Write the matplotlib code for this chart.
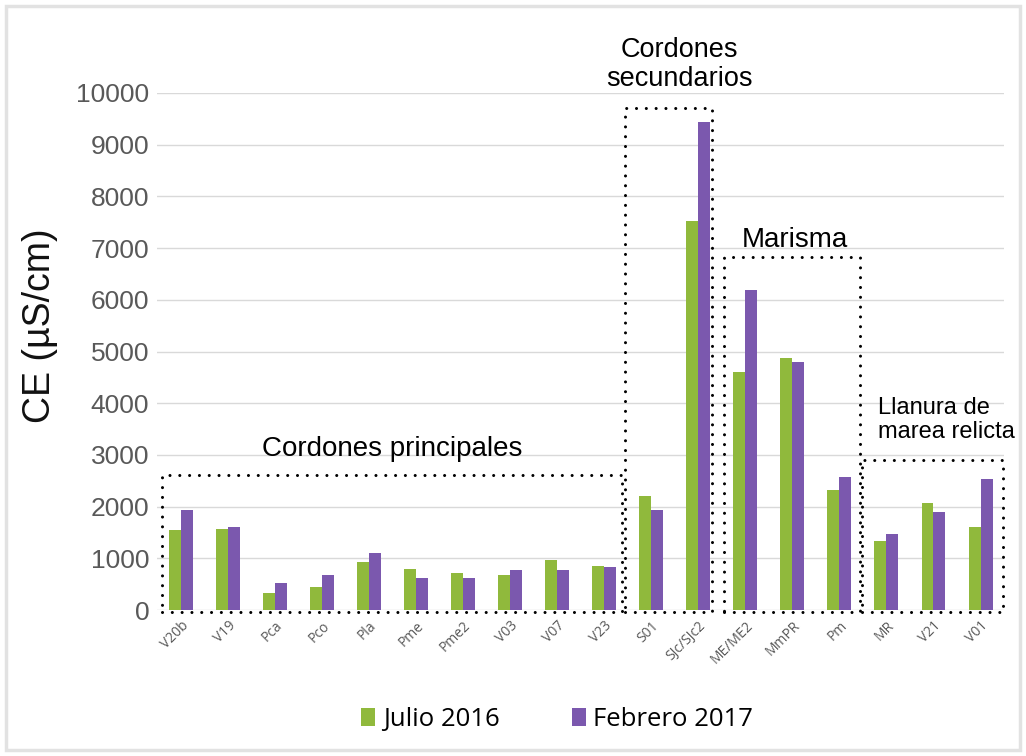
import matplotlib.pyplot as plt
import numpy as np
from matplotlib.patches import Rectangle

# sampling points and conductivity for both campaigns
sites = ['V20b', 'V19', 'Pca', 'Pco', 'Pla', 'Pme', 'Pme2', 'V03', 'V07', 'V23',
         'S01', 'SJc/SJc2', 'ME/ME2', 'MmPR', 'Pm', 'MR', 'V21', 'V01']
julio_2016 = [1540, 1570, 330, 450, 930, 800, 710, 680, 960, 860,
              2210, 7530, 4600, 4870, 2330, 1330, 2070, 1600]
febrero_2017 = [1930, 1610, 530, 670, 1100, 610, 610, 770, 770, 830,
                1930, 9430, 6190, 4790, 2570, 1470, 1900, 2530]

# groups: (label, x0, x1, top)
groups = [
    ('Cordones principales', -0.40, 9.37, 2610),
    ('Cordones\nsecundarios', 9.43, 11.28, 9710),
    ('Marisma', 11.54, 14.43, 6830),
    ('Llanura de\nmarea relicta', 14.47, 17.47, 2900),
]

GREEN = '#90b93c'
PURPLE = '#7b58ae'
GRAY = '#595959'

plt.rcParams['font.family'] = ['Liberation Sans', 'DejaVu Sans']

fig = plt.figure(figsize=(10.26, 7.56), dpi=100)
ax = fig.add_axes([0.1535, 0.1931, 0.8251, 0.6839])

x = np.arange(len(sites))
w = 0.255
ax.bar(x - w / 2, julio_2016, w, color=GREEN, label='Julio 2016', zorder=3)
ax.bar(x + w / 2, febrero_2017, w, color=PURPLE, label='Febrero 2017', zorder=3)

ax.set_xlim(-0.5, len(sites) - 0.5)
ax.set_ylim(0, 10000)
ax.set_yticks(np.arange(0, 10001, 1000))
ax.yaxis.grid(True, color='#d9d9d9', linewidth=1, zorder=0)
ax.set_axisbelow(True)
for s in ax.spines.values():
    s.set_visible(False)
ax.tick_params(axis='both', length=0)
ax.tick_params(axis='y', labelsize=19, labelcolor=GRAY, pad=6)
ax.set_xticks(x)
ax.set_xticklabels(sites, rotation=45, ha='right', rotation_mode='anchor',
                   fontsize=10, color=GRAY, family=['Open Sans', 'DejaVu Sans'])
ax.tick_params(axis='x', pad=6)
ax.set_ylabel('CE (µS/cm)', fontsize=27, color='#111111')
ax.yaxis.set_label_coords(-0.117, 0.55)

# dotted group boxes
for label, x0, x1, top in groups:
    r = Rectangle((x0, -40), x1 - x0, top + 40, fill=False, edgecolor='black',
                  linewidth=2.2, linestyle=(0, (0.01, 3.2)), clip_on=False,
                  zorder=5)
    r.set_capstyle('round')
    ax.add_patch(r)

ax.text(4.5, 3120, groups[0][0], ha='center', va='center', fontsize=20)
ax.text(10.6, 10550, groups[1][0], ha='center', va='center', fontsize=19.5,
        linespacing=1.15)
ax.text(13.05, 7150, groups[2][0], ha='center', va='center', fontsize=20)
ax.text(14.83, 3670, groups[3][0], ha='left', va='center', fontsize=17,
        linespacing=1.1)

fig.legend(loc='center', bbox_to_anchor=(0.543, 0.048), ncol=2, frameon=False,
           handlelength=0.55, handleheight=0.7, handletextpad=0.3,
           columnspacing=2.8, prop={'family': ['Open Sans', 'DejaVu Sans'], 'size': 18.5})

# light frame around the figure
fig.patches.append(Rectangle((0.006, 0.008), 0.988, 0.984, transform=fig.transFigure,
                             fill=False, edgecolor='#e2e2e2', linewidth=2.5))

fig.savefig('out.png', dpi=100)
